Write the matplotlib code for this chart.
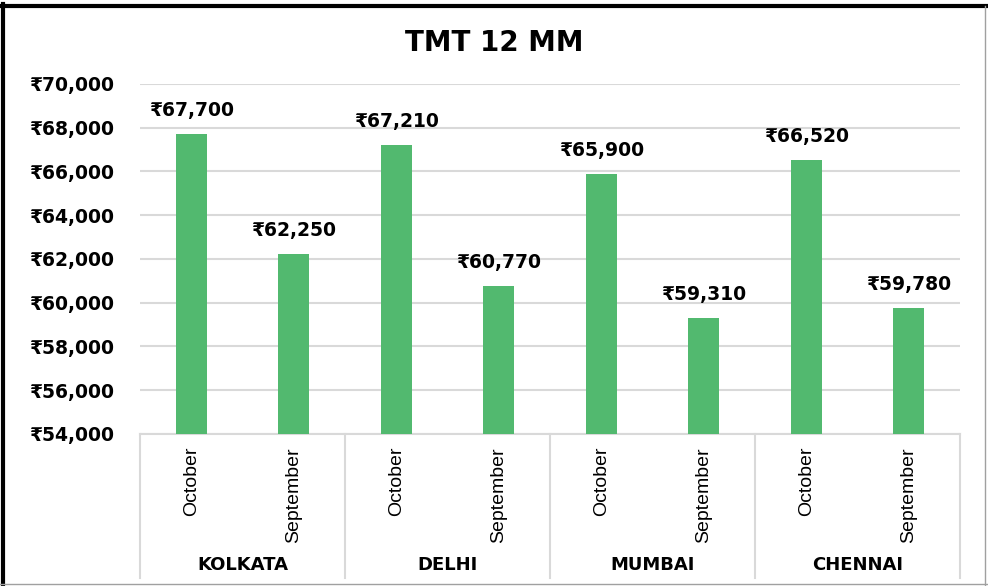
import matplotlib
matplotlib.use("Agg")
import matplotlib.pyplot as plt
from matplotlib.ticker import FuncFormatter
from matplotlib.lines import Line2D

plt.rcParams['font.family'] = ['DejaVu Sans']

cities = ["KOLKATA", "DELHI", "MUMBAI", "CHENNAI"]
months = ["October", "September"]
october = [67700, 67210, 65900, 66520]
september = [62250, 60770, 59310, 59780]
title = "TMT 12 MM"

W, H = 988, 586
fig = plt.figure(figsize=(W / 100, H / 100), dpi=100)
ax = fig.add_axes([140 / W, (H - 434) / H, 820 / W, 350 / H])

values = []
labels = []
for c, o, s in zip(cities, october, september):
    values += [o, s]
    labels += months
xs = list(range(len(values)))
green = "#52B96F"
ax.bar(xs, values, width=0.3, color=green, zorder=3)
ax.set_xlim(-0.5, len(values) - 0.5)
ax.set_ylim(54000, 70000)
ax.set_yticks(range(54000, 70001, 2000))
ax.yaxis.set_major_formatter(FuncFormatter(lambda v, p: "₹{:,.0f}".format(v)))
ax.grid(axis='y', color="#D9D9D9", linewidth=1.5, zorder=0)
for sp in ["top", "right", "left"]:
    ax.spines[sp].set_visible(False)
ax.spines["bottom"].set_color("#D9D9D9")
ax.spines["bottom"].set_linewidth(1.5)
ax.tick_params(axis='y', length=0, pad=19, labelsize=13.5)
for t in ax.get_yticklabels():
    t.set_fontweight('bold')
ax.set_xticks([])

for x, v in zip(xs, values):
    ax.annotate("₹{:,.0f}".format(v), (x, v), xytext=(0, 10), textcoords="offset points",
                ha='center', va='bottom', fontsize=13.5, fontweight='bold')

month_font = ['Liberation Sans', 'DejaVu Sans']
trans = ax.get_xaxis_transform()
for x, m in zip(xs, labels):
    ax.text(x, -0.037, m, rotation=90, ha='center', va='top', transform=trans,
            fontsize=14, family=month_font, clip_on=False)
for i, c in enumerate(cities):
    ax.text(2 * i + 0.5, -0.375, c, ha='center', va='center', transform=trans,
            fontsize=13, fontweight='bold', clip_on=False)
for b in [-0.5, 1.5, 3.5, 5.5, 7.5]:
    ax.add_line(Line2D([b, b], [0, -0.411], transform=trans, color="#D9D9D9",
                       linewidth=1.5, clip_on=False))

fig.text(494 / W, 1 - 43 / H, title, ha='center', va='center', fontsize=20, fontweight='bold')

# outer border
fig.add_artist(Line2D([3 / W, 3 / W], [0, 1 - 4 / H], color='black', linewidth=3, transform=fig.transFigure))
fig.add_artist(Line2D([1 / W, 1], [1 - 6 / H, 1 - 6 / H], color='black', linewidth=3, transform=fig.transFigure))
fig.add_artist(Line2D([985 / W, 985 / W], [0, 1 - 6 / H], color='#A0A0A0', linewidth=1, transform=fig.transFigure))
fig.add_artist(Line2D([0, 1], [1 - 584 / H, 1 - 584 / H], color='#A0A0A0', linewidth=1, transform=fig.transFigure))

fig.savefig("out.png", dpi=100)
